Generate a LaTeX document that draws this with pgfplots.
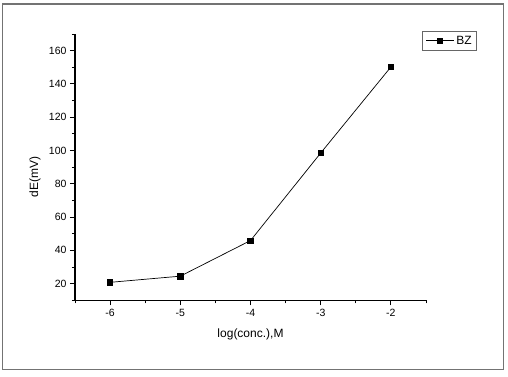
\documentclass[border=0pt]{standalone}
\usepackage{pgfplots}
\pgfplotsset{compat=1.18}
\usepackage{fontspec}
\setmainfont{Liberation Sans}
\begin{document}
\begin{tikzpicture}
\useasboundingbox (-75pt,-75.7pt) rectangle (433pt,300.3pt);
\draw[line width=1.6pt, draw=black!55] (-72.5pt,-69.2pt) rectangle (428.5pt,296.3pt);
\begin{axis}[
  at={(0pt,0pt)}, anchor=south west,
  scale only axis, width=351pt, height=266.3pt,
  xmin=-6.5, xmax=-1.5, ymin=10, ymax=170,
  axis x line=bottom, axis y line=left,
  axis line style={-, line width=1.1pt},
  tick align=outside,
  major tick length=5pt, minor tick length=3pt,
  tick style={line width=0.9pt, black},
  xtick={-6,-5,-4,-3,-2},
  xticklabels={-6,-5,-4,-3,-2},
  minor xtick={-6.5,-5.5,-4.5,-3.5,-2.5,-1.5},
  ytick={20,40,60,80,100,120,140,160},
  minor ytick={10,30,50,70,90,110,130,150,170},
  /pgf/number format/assume math mode=true,
  ticklabel style={font=\fontsize{10.5}{12}\selectfont},
  xlabel={log(conc.),M}, ylabel={dE(mV)},
  label style={font=\fontsize{12}{14}\selectfont},
  xlabel style={at={(axis description cs:0.5,-0.1266)}, anchor=center},
  ylabel style={at={(axis description cs:-0.114,0.463)}, anchor=center},
  legend style={at={(1.1453,1.0113)}, anchor=north east, draw=black!60, line width=0.6pt,
    font=\fontsize{12}{14}\selectfont, inner xsep=3pt, inner ysep=2.5pt},
  legend cell align=left,
  legend image code/.code={\draw[#1] (0pt,0pt) -- (28pt,0pt);
    \draw[#1, only marks] plot coordinates {(14pt,0pt)};},
]
\addplot[black, line width=0.7pt, mark=square*, mark size=2.7pt, mark options={solid}]
  coordinates {(-6,20.8) (-5,24.5) (-4,45.9) (-3,98.5) (-2,150.2)};
\addlegendentry{BZ}
\end{axis}
\end{tikzpicture}
\end{document}
